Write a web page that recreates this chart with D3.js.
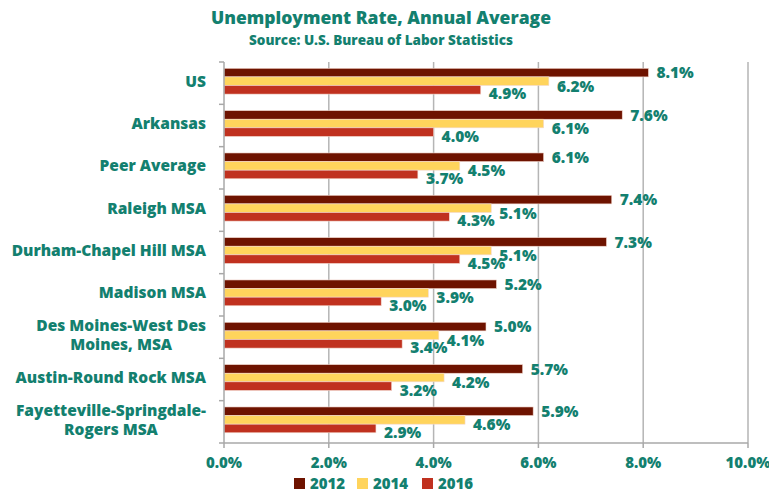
<!DOCTYPE html>
<html lang="en">
<head>
<meta charset="utf-8">
<title>Unemployment Rate</title>
<script src="https://cdn.jsdelivr.net/npm/d3@7"></script>
<style>
  body { margin: 0; background: #ffffff; font-family: "Open Sans", "Lato", Arial, sans-serif; }
  text { font-weight: 800; fill: #13806f; }
</style>
</head>
<body>
<script>
// categories, top to bottom
var categories = [
  ["US"],
  ["Arkansas"],
  ["Peer Average"],
  ["Raleigh MSA"],
  ["Durham-Chapel Hill MSA"],
  ["Madison MSA"],
  ["Des Moines-West Des", "Moines, MSA"],
  ["Austin-Round Rock MSA"],
  ["Fayetteville-Springdale-", "Rogers MSA"]
];
var years = ["2012", "2014", "2016"];
var rate2012 = [8.1, 7.6, 6.1, 7.4, 7.3, 5.2, 5.0, 5.7, 5.9];
var rate2014 = [6.2, 6.1, 4.5, 5.1, 5.1, 3.9, 4.1, 4.2, 4.6];
var rate2016 = [4.9, 4.0, 3.7, 4.3, 4.5, 3.0, 3.4, 3.2, 2.9];
var xTicks = [0, 2, 4, 6, 8, 10];

var series = [rate2012, rate2014, rate2016];
var colors = ["#6e1300", "#ffd45c", "#c0311f"];
var labelDy = [0, 5, 4];

var w = 769, h = 491;
var plotL = 224, plotR = 748, plotT = 62, plotB = 443;

var svg = d3.select("body").append("svg")
  .attr("width", w)
  .attr("height", h);

var x = d3.scaleLinear().domain([0, 10]).range([plotL, plotR]);
var y = d3.scaleBand().domain(d3.range(categories.length)).range([plotT, plotB]);

// title
svg.append("text")
  .attr("x", 381).attr("y", 24)
  .attr("text-anchor", "middle")
  .attr("font-size", "17.5px")
  .text("Unemployment Rate, Annual Average");
svg.append("text")
  .attr("x", 381).attr("y", 45)
  .attr("text-anchor", "middle")
  .attr("font-size", "13.5px")
  .text("Source: U.S. Bureau of Labor Statistics");

// gridlines
svg.append("g").selectAll("line")
  .data(xTicks.slice(1))
  .enter().append("line")
  .attr("x1", function(d) { return x(d); })
  .attr("x2", function(d) { return x(d); })
  .attr("y1", plotT).attr("y2", plotB)
  .attr("stroke", "#b5b5b5")
  .attr("stroke-width", 1.5);

// bars
var barH = 8.6;
var groups = svg.append("g").selectAll("g")
  .data(series)
  .enter().append("g")
  .attr("fill", function(d, i) { return colors[i]; });

groups.each(function(vals, s) {
  var g = d3.select(this);
  g.selectAll("rect")
    .data(vals)
    .enter().append("rect")
    .attr("x", x(0))
    .attr("y", function(d, i) { return y(i) + 6.3 + s * barH; })
    .attr("width", function(d) { return x(d) - x(0); })
    .attr("height", barH)
    .attr("stroke", "#f3d9cf")
    .attr("stroke-width", 0.6);
  g.selectAll("text")
    .data(vals)
    .enter().append("text")
    .attr("x", function(d) { return x(d) + 8; })
    .attr("y", function(d, i) { return y(i) + 6.3 + s * barH + barH / 2 + labelDy[s]; })
    .attr("dy", "0.36em")
    .attr("font-size", "15.5px")
    .text(function(d) { return d.toFixed(1) + "%"; });
});

// y axis
var yAxis = svg.append("g");
yAxis.append("line")
  .attr("x1", plotL).attr("x2", plotL)
  .attr("y1", plotT).attr("y2", plotB)
  .attr("stroke", "#a8a8a8").attr("stroke-width", 1.5);
yAxis.selectAll("line.tick")
  .data(d3.range(categories.length + 1))
  .enter().append("line")
  .attr("class", "tick")
  .attr("x1", plotL - 5).attr("x2", plotL)
  .attr("y1", function(i) { return plotT + i * y.step(); })
  .attr("y2", function(i) { return plotT + i * y.step(); })
  .attr("stroke", "#a8a8a8").attr("stroke-width", 1.5);

// x axis
var xAxis = svg.append("g");
xAxis.append("line")
  .attr("x1", plotL).attr("x2", plotR)
  .attr("y1", plotB).attr("y2", plotB)
  .attr("stroke", "#a8a8a8").attr("stroke-width", 1.5);
xAxis.selectAll("line.tick")
  .data(xTicks)
  .enter().append("line")
  .attr("class", "tick")
  .attr("x1", function(d) { return x(d); })
  .attr("x2", function(d) { return x(d); })
  .attr("y1", plotB).attr("y2", plotB + 5)
  .attr("stroke", "#a8a8a8").attr("stroke-width", 1.5);
xAxis.selectAll("text")
  .data(xTicks)
  .enter().append("text")
  .attr("x", function(d) { return x(d); })
  .attr("y", 468)
  .attr("text-anchor", "middle")
  .attr("font-size", "15px")
  .text(function(d) { return d.toFixed(1) + "%"; });

// category labels: block right-aligned, lines centred inside
var labelRight = 206;
var lineH = 19.5;
categories.forEach(function(lines, i) {
  var g = svg.append("g");
  var cy = y(i) + y.bandwidth() / 2 - 2;
  var texts = lines.map(function(t, k) {
    return g.append("text")
      .attr("font-size", "15.5px")
      .attr("dy", "0.36em")
      .attr("y", cy + (k - (lines.length - 1) / 2) * lineH)
      .text(t);
  });
  var maxW = d3.max(texts, function(t) { return t.node().getComputedTextLength(); });
  texts.forEach(function(t) {
    t.attr("text-anchor", "middle").attr("x", labelRight - maxW / 2);
  });
});

// legend
var legendX = [294, 357, 422];
var legend = svg.append("g").selectAll("g")
  .data(years)
  .enter().append("g")
  .attr("transform", function(d, i) { return "translate(" + legendX[i] + ",478)"; });
legend.append("rect")
  .attr("width", 11).attr("height", 11)
  .attr("fill", function(d, i) { return colors[i]; });
legend.append("text")
  .attr("x", 16).attr("y", 10.5)
  .attr("font-size", "15px")
  .text(function(d) { return d; });
</script>
</body>
</html>
